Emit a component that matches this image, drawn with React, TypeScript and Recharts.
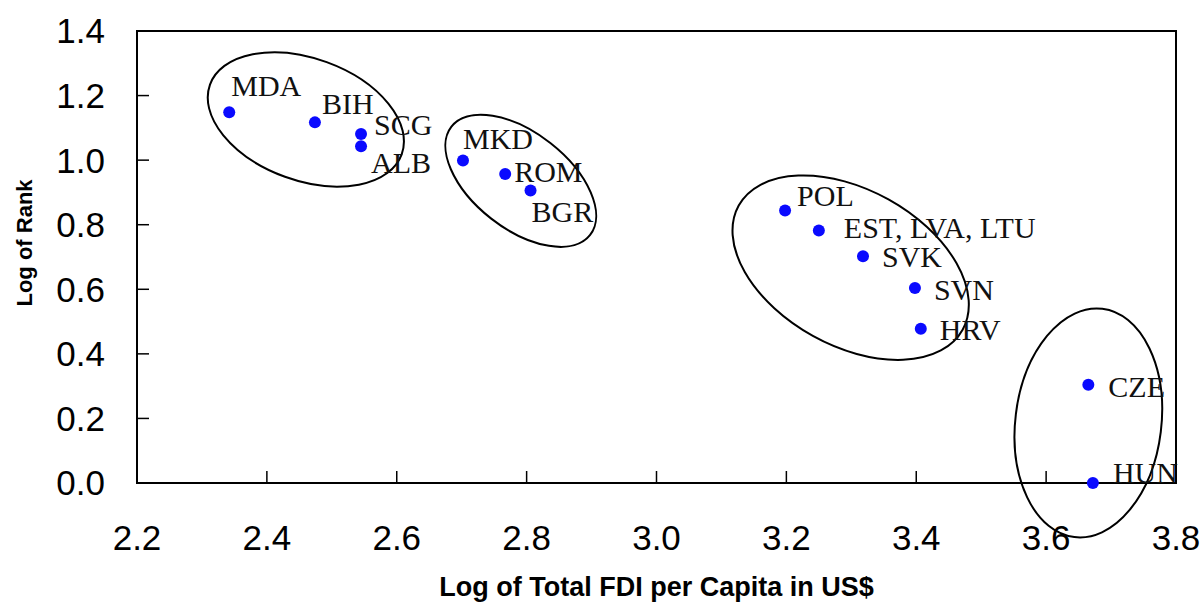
import { ScatterChart, Scatter, XAxis, YAxis, ReferenceArea } from "recharts";

const codes = ["MDA", "BIH", "SCG", "ALB", "MKD", "ROM", "BGR", "POL", "EST, LVA, LTU", "SVK", "SVN", "HRV", "CZE", "HUN"];
const logFdi = [2.342, 2.474, 2.545, 2.545, 2.702, 2.767, 2.806, 3.198, 3.25, 3.318, 3.398, 3.407, 3.665, 3.672];
const logRank = [1.148, 1.117, 1.081, 1.043, 0.999, 0.957, 0.906, 0.844, 0.782, 0.702, 0.604, 0.478, 0.304, 0.0];

const xTicks = [2.2, 2.4, 2.6, 2.8, 3.0, 3.2, 3.4, 3.6, 3.8];
const yTicks = [0, 0.2, 0.4, 0.6, 0.8, 1.0, 1.2, 1.4];

// group ovals, centred in data units
const groupFdi = [2.46, 2.791, 3.299, 3.665];
const groupRank = [1.126, 0.936, 0.667, 0.186];

// label nudges from the dot, px [dx, dy-to-baseline]
const labelNudge: [number, number][] = [
  [2, -16], [7, -8], [13, 1], [10, 27], [0, -11], [9, 8], [1, 32],
  [12, -5], [25, 7], [19, 11], [19, 12], [19, 11], [20, 12], [20, 0],
];
// oval radii (px) and tilt (deg)
const ovalShape: [number, number, number][] = [
  [102, 61, 20], [88, 48, 38], [128, 78, 29], [73, 115, 7],
];

const points = codes.map((c, i) => ({ code: c, x: logFdi[i], y: logRank[i] }));
const groups = groupFdi.map((x, i) => ({ g: i, x, y: groupRank[i] }));

const SANS = "'Liberation Sans', Arial, sans-serif";
const SERIF = "'Liberation Serif', 'Times New Roman', serif";

const CountryDot = (p: any) => {
  const i = codes.indexOf(p.payload.code);
  const [dx, dy] = labelNudge[i];
  return (
    <g>
      <circle cx={p.cx} cy={p.cy} r={6} fill="#0a0aff" />
      <text x={p.cx + dx} y={p.cy + dy} fontFamily={SERIF} fontSize={30} fill="#111">
        {p.payload.code}
      </text>
    </g>
  );
};

const Oval = (p: any) => {
  const [rx, ry, rot] = ovalShape[p.payload.g];
  return (
    <ellipse
      cx={p.cx}
      cy={p.cy}
      rx={rx}
      ry={ry}
      transform={`rotate(${rot} ${p.cx} ${p.cy})`}
      fill="none"
      stroke="#000"
      strokeWidth={2}
    />
  );
};

const YTitle = (props: any) => {
  const vb = props.viewBox;
  const cx = 24;
  const cy = vb.y + vb.height / 2 - 14;
  return (
    <text
      x={cx}
      y={cy}
      transform={`rotate(-90 ${cx} ${cy})`}
      textAnchor="middle"
      dominantBaseline="central"
      fontFamily={SANS}
      fontWeight={700}
      fontSize={22}
      fill="#000"
    >
      Log of Rank
    </text>
  );
};

const XTitle = (props: any) => {
  const vb = props.viewBox;
  return (
    <text
      x={vb.x + vb.width / 2}
      y={vb.y + vb.height - 9}
      textAnchor="middle"
      fontFamily={SANS}
      fontWeight={700}
      fontSize={27}
      fill="#000"
    >
      Log of Total FDI per Capita in US$
    </text>
  );
};

export default function App() {
  const tick = { fill: "#000", fontSize: 35, fontFamily: SANS };
  return (
    <div style={{ position: "absolute", left: 0, top: 0, background: "#fff" }}>
      <ScatterChart width={1204} height={605} margin={{ top: 31, right: 28, left: 0, bottom: 0 }}>
        <XAxis
          type="number"
          dataKey="x"
          domain={[2.2, 3.8]}
          ticks={xTicks}
          tickFormatter={(v: number) => v.toFixed(1)}
          height={122}
          tick={tick}
          tickSize={-12}
          tickMargin={54}
          axisLine={{ stroke: "#000", strokeWidth: 2 }}
          tickLine={{ stroke: "#000", strokeWidth: 1.5 }}
          label={<XTitle />}
        />
        <YAxis
          type="number"
          dataKey="y"
          domain={[0, 1.4]}
          ticks={yTicks}
          tickFormatter={(v: number) => v.toFixed(1)}
          width={137}
          tick={tick}
          tickSize={-12}
          tickMargin={44}
          axisLine={{ stroke: "#000", strokeWidth: 2 }}
          tickLine={{ stroke: "#000", strokeWidth: 1.5 }}
          label={<YTitle />}
        />
        <ReferenceArea x1={2.2} x2={3.8} y1={0} y2={1.4} fill="none" stroke="#000" strokeWidth={2} fillOpacity={0} />
        <Scatter data={groups} shape={Oval} isAnimationActive={false} />
        <Scatter data={points} shape={CountryDot} isAnimationActive={false} />
      </ScatterChart>
    </div>
  );
}
